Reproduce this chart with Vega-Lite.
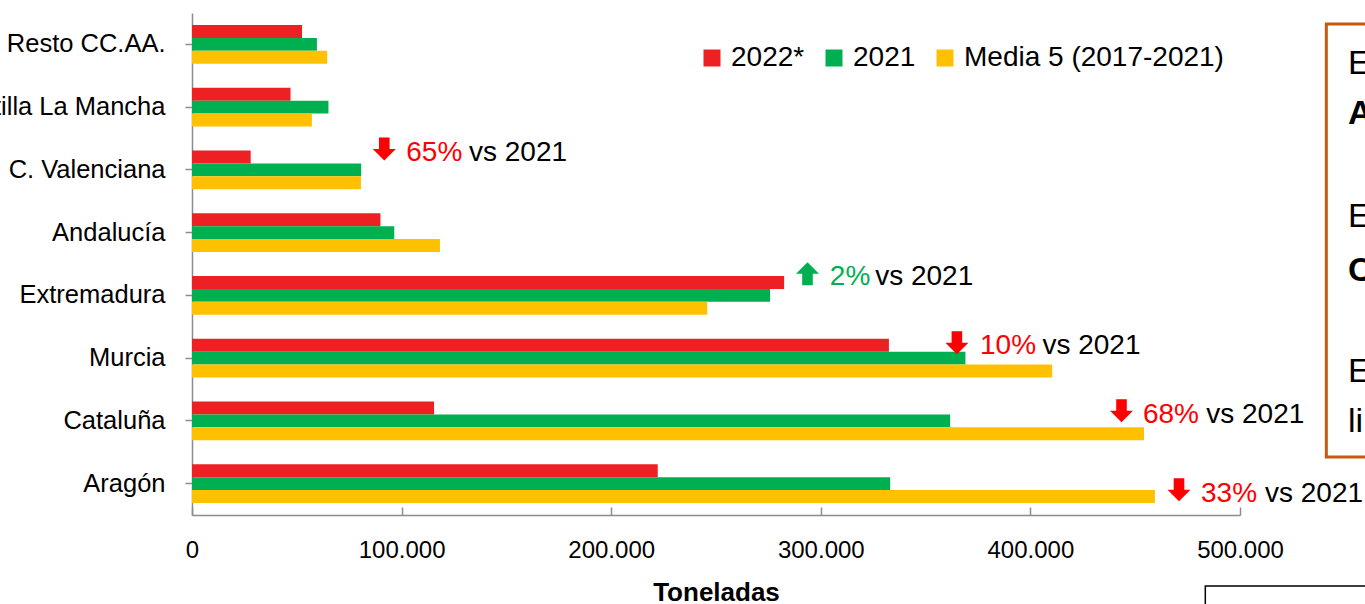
{
  "$schema": "https://vega.github.io/schema/vega-lite/v6.json",
  "width": 1048,
  "height": 502,
  "autosize": {"type": "none"},
  "padding": {"left": 192, "top": 13, "right": 125, "bottom": 89},
  "background": "white",
  "config": {
    "font": "Liberation Sans",
    "view": {"stroke": null},
    "axis": {"grid": false}
  },
  "datasets": {
    "bars": [
      {"region": "Resto CC.AA.", "serie": "2022*", "t": 52500},
      {"region": "Resto CC.AA.", "serie": "2021", "t": 59600},
      {"region": "Resto CC.AA.", "serie": "Media 5 (2017-2021)", "t": 64500},
      {"region": "Castilla La Mancha", "serie": "2022*", "t": 47000},
      {"region": "Castilla La Mancha", "serie": "2021", "t": 65100},
      {"region": "Castilla La Mancha", "serie": "Media 5 (2017-2021)", "t": 57200},
      {"region": "C. Valenciana", "serie": "2022*", "t": 28000},
      {"region": "C. Valenciana", "serie": "2021", "t": 80700},
      {"region": "C. Valenciana", "serie": "Media 5 (2017-2021)", "t": 80600},
      {"region": "Andalucía", "serie": "2022*", "t": 89900},
      {"region": "Andalucía", "serie": "2021", "t": 96500},
      {"region": "Andalucía", "serie": "Media 5 (2017-2021)", "t": 118300},
      {"region": "Extremadura", "serie": "2022*", "t": 282500},
      {"region": "Extremadura", "serie": "2021", "t": 275800},
      {"region": "Extremadura", "serie": "Media 5 (2017-2021)", "t": 245800},
      {"region": "Murcia", "serie": "2022*", "t": 332500},
      {"region": "Murcia", "serie": "2021", "t": 369000},
      {"region": "Murcia", "serie": "Media 5 (2017-2021)", "t": 410400},
      {"region": "Cataluña", "serie": "2022*", "t": 115500},
      {"region": "Cataluña", "serie": "2021", "t": 361700},
      {"region": "Cataluña", "serie": "Media 5 (2017-2021)", "t": 454200},
      {"region": "Aragón", "serie": "2022*", "t": 222200},
      {"region": "Aragón", "serie": "2021", "t": 333100},
      {"region": "Aragón", "serie": "Media 5 (2017-2021)", "t": 459400}
    ],
    "notes": [
      {"pct": "65%", "dir": "down", "ax": 91750, "px": 102240, "vx": 132150, "ay": 2.167, "ty": 2.358},
      {"pct": "2%", "dir": "up", "ax": 293650, "px": 304300, "vx": 325950, "ay": 4.155, "ty": 4.335},
      {"pct": "10%", "dir": "down", "ax": 364930, "px": 375950, "vx": 405720, "ay": 5.256, "ty": 5.439},
      {"pct": "68%", "dir": "down", "ax": 443470, "px": 453680, "vx": 483880, "ay": 6.338, "ty": 6.529},
      {"pct": "33%", "dir": "down", "ax": 470900, "px": 481400, "vx": 511930, "ay": 7.597, "ty": 7.788}
    ],
    "obox": [{"x": 541180, "x2": 700000, "y": 0.175, "y2": 7.076}],
    "bbox": [{"x": 483450, "x2": 700000, "y": 9.13, "y2": 12}],
    "btext": [
      {"txt": "E", "bold": false, "x": 551530, "y": 0.972},
      {"txt": "A", "bold": true, "x": 551530, "y": 1.769},
      {"txt": "E", "bold": false, "x": 551530, "y": 3.41},
      {"txt": "C", "bold": true, "x": 551530, "y": 4.27},
      {"txt": "E", "bold": false, "x": 551530, "y": 5.88},
      {"txt": "li", "bold": false, "x": 551530, "y": 6.68}
    ]
  },
  "layer": [
    {
      "data": {"name": "bars"},
      "mark": {"type": "bar"},
      "encoding": {
        "y": {
          "field": "region", "type": "nominal",
          "sort": ["Resto CC.AA.", "Castilla La Mancha", "C. Valenciana", "Andalucía", "Extremadura", "Murcia", "Cataluña", "Aragón"],
          "scale": {"paddingInner": 0.385, "paddingOuter": 0.1925},
          "axis": {"title": null, "labelFontSize": 25.5, "labelColor": "black", "labelPadding": 20, "tickSize": 7, "tickColor": "#8C8C8C", "domainColor": "#8C8C8C", "domainWidth": 1.5, "tickWidth": 1.5, "labelLimit": 400}
        },
        "yOffset": {
          "field": "serie", "type": "nominal",
          "sort": ["2022*", "2021", "Media 5 (2017-2021)"],
          "scale": {"paddingInner": 0, "paddingOuter": 0}
        },
        "x": {
          "field": "t", "type": "quantitative",
          "scale": {"domain": [0, 500000], "nice": false},
          "axis": {
            "title": "Toneladas", "titleFontSize": 26, "titleFontWeight": "bold", "titleColor": "black", "titlePadding": 17,
            "labelFontSize": 24, "labelColor": "black", "labelPadding": 31,
            "values": [0, 100000, 200000, 300000, 400000, 500000],
            "labelExpr": "replace(format(datum.value, ','), ',', '.')",
            "tickSize": -8, "tickColor": "#8C8C8C", "tickWidth": 1.5,
            "domainColor": "#8C8C8C", "domainWidth": 1.5, "labelFlush": false
          }
        },
        "color": {
          "field": "serie", "type": "nominal",
          "scale": {"domain": ["2022*", "2021", "Media 5 (2017-2021)"], "range": ["#ED2024", "#00B050", "#FFC000"]},
          "legend": {
            "title": null, "orient": "none", "direction": "horizontal", "legendX": 506, "legendY": 31,
            "symbolType": "square", "symbolSize": 289, "symbolStrokeWidth": 0, "symbolOpacity": 1,
            "labelFontSize": 28, "labelColor": "black", "labelOffset": 5, "labelLimit": 400, "columnPadding": 15
          }
        }
      }
    },
    {
      "data": {"name": "notes"},
      "mark": {"type": "point", "filled": true, "size": 529, "opacity": 1, "strokeWidth": 0},
      "encoding": {
        "x": {"field": "ax", "type": "quantitative", "scale": {"domain": [0, 500000], "nice": false}, "axis": null},
        "y": {"field": "ay", "type": "quantitative", "scale": {"domain": [0, 8], "reverse": true, "nice": false, "zero": false}, "axis": null},
        "shape": {"field": "dir", "type": "nominal", "scale": {"domain": ["down", "up"], "range": ["M-0.46,-1L0.46,-1L0.46,0L1,0L0,1L-1,0L-0.46,0Z", "M-0.46,1L0.46,1L0.46,0L1,0L0,-1L-1,0L-0.46,0Z"]}, "legend": null},
        "fill": {"field": "dir", "type": "nominal", "scale": {"domain": ["down", "up"], "range": ["#FF0000", "#00B050"]}, "legend": null}
      }
    },
    {
      "data": {"name": "notes"},
      "mark": {"type": "text", "align": "left", "baseline": "alphabetic", "fontSize": 28},
      "encoding": {
        "x": {"field": "px", "type": "quantitative", "scale": {"domain": [0, 500000], "nice": false}, "axis": null},
        "y": {"field": "ty", "type": "quantitative", "scale": {"domain": [0, 8], "reverse": true, "nice": false, "zero": false}, "axis": null},
        "text": {"field": "pct"},
        "fill": {"field": "dir", "type": "nominal", "scale": {"domain": ["down", "up"], "range": ["#FF0000", "#00B050"]}, "legend": null}
      }
    },
    {
      "data": {"name": "notes"},
      "mark": {"type": "text", "align": "left", "baseline": "alphabetic", "fontSize": 28, "color": "black"},
      "encoding": {
        "x": {"field": "vx", "type": "quantitative", "scale": {"domain": [0, 500000], "nice": false}, "axis": null},
        "y": {"field": "ty", "type": "quantitative", "scale": {"domain": [0, 8], "reverse": true, "nice": false, "zero": false}, "axis": null},
        "text": {"value": "vs 2021"}
      }
    },
    {
      "data": {"name": "obox"},
      "mark": {"type": "rect", "fill": null, "fillOpacity": 0, "stroke": "#C55A11", "strokeWidth": 3},
      "encoding": {
        "x": {"field": "x", "type": "quantitative", "scale": {"domain": [0, 500000], "nice": false}, "axis": null},
        "x2": {"field": "x2"},
        "y": {"field": "y", "type": "quantitative", "scale": {"domain": [0, 8], "reverse": true, "nice": false, "zero": false}, "axis": null},
        "y2": {"field": "y2"}
      }
    },
    {
      "data": {"name": "bbox"},
      "mark": {"type": "rect", "fill": null, "fillOpacity": 0, "stroke": "black", "strokeWidth": 1.5},
      "encoding": {
        "x": {"field": "x", "type": "quantitative", "scale": {"domain": [0, 500000], "nice": false}, "axis": null},
        "x2": {"field": "x2"},
        "y": {"field": "y", "type": "quantitative", "scale": {"domain": [0, 8], "reverse": true, "nice": false, "zero": false}, "axis": null},
        "y2": {"field": "y2"}
      }
    },
    {
      "data": {"name": "btext"},
      "transform": [{"filter": "!datum.bold"}],
      "mark": {"type": "text", "align": "left", "baseline": "alphabetic", "fontSize": 34, "color": "black"},
      "encoding": {
        "x": {"field": "x", "type": "quantitative", "scale": {"domain": [0, 500000], "nice": false}, "axis": null},
        "y": {"field": "y", "type": "quantitative", "scale": {"domain": [0, 8], "reverse": true, "nice": false, "zero": false}, "axis": null},
        "text": {"field": "txt"}
      }
    },
    {
      "data": {"name": "btext"},
      "transform": [{"filter": "datum.bold"}],
      "mark": {"type": "text", "align": "left", "baseline": "alphabetic", "fontSize": 34, "fontWeight": "bold", "color": "black"},
      "encoding": {
        "x": {"field": "x", "type": "quantitative", "scale": {"domain": [0, 500000], "nice": false}, "axis": null},
        "y": {"field": "y", "type": "quantitative", "scale": {"domain": [0, 8], "reverse": true, "nice": false, "zero": false}, "axis": null},
        "text": {"field": "txt"}
      }
    }
  ],
  "resolve": {"scale": {"y": "independent", "x": "independent"}}
}
